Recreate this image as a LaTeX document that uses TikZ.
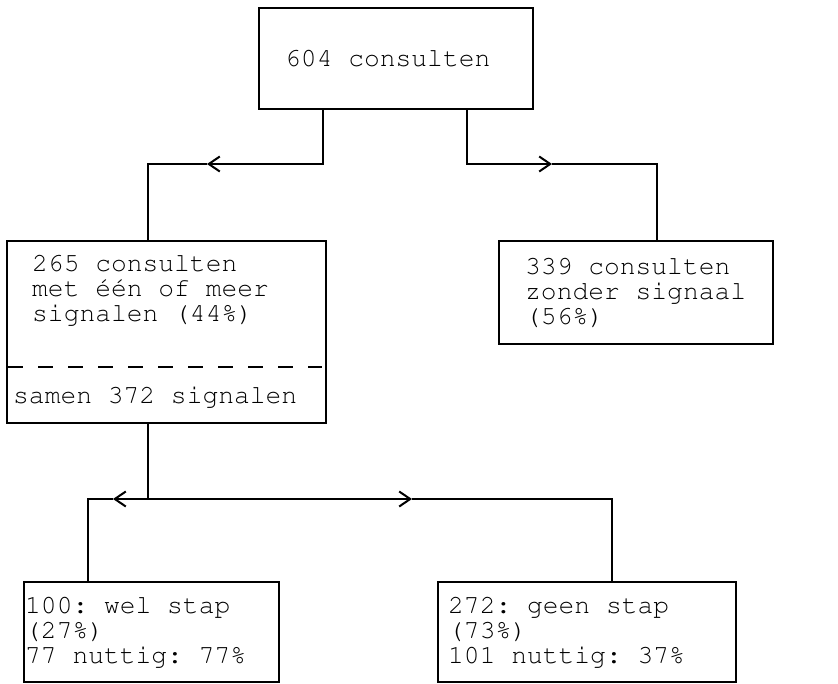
\documentclass[tikz,border=0pt]{standalone}
\usepackage[T1]{fontenc}
\usetikzlibrary{arrows.meta}

\newcommand\typefont{\fontencoding{T1}\fontfamily{pcr}\selectfont\frenchspacing}

\tikzset{
  box/.style={draw, line width=2pt, inner sep=0pt, anchor=north west},
  txt/.style={font=\typefont\fontsize{26.3}{25.3}\selectfont, align=left, inner sep=0pt, anchor=west},
  link/.style={line width=1.6pt},
  chevron/.style={link, -{Straight Barb[length=11pt, width=15pt, line width=2pt]}}
}

\begin{document}
\begin{tikzpicture}[x=1pt, y=-1pt]
    \useasboundingbox (0,0) rectangle (838,683);
    % boxes
    \node[box, minimum width=274pt, minimum height=101pt] (totaal) at (258,7) {};
    \node[box, minimum width=319pt, minimum height=182pt] (met) at (6,240) {};
    \node[box, minimum width=274pt, minimum height=103pt] (zonder) at (498,240) {};
    \node[box, minimum width=255pt, minimum height=100pt] (wel) at (23,581) {};
    \node[box, minimum width=298pt, minimum height=100pt] (geen) at (437,581) {};
    % texts
    \node[txt] (totaaltxt) at ([xshift=27pt]totaal.west) {604 consulten};
    \node[txt] (mettxt) at (32,290) {265 consulten\\met één of meer\\signalen (44\%)};
    \draw[link, line width=2.5pt, dash pattern=on 15pt off 15pt] (8,367) -- (322,367);
    \node[txt] (samen) at (13,397) {samen 372 signalen};
    \node[txt] (zondertxt) at ([xshift=27pt]zonder.west) {339 consulten\\zonder signaal\\(56\%)};
    \node[txt] (weltxt) at ([xshift=2pt]wel.west) {100: wel stap\\(27\%)\\77 nuttig: 77\%};
    \node[txt] (geentxt) at ([xshift=11pt]geen.west) {272: geen stap\\(73\%)\\101 nuttig: 37\%};
    % connectors
    \coordinate (pijlL) at (207,164);
    \coordinate (pijlR) at (552,164);
    \draw[chevron] ([xshift=65pt]totaal.south west) |- (pijlL);
    \draw[link] (pijlL) -| ([xshift=142pt]met.north west);
    \draw[chevron] ([xshift=209pt]totaal.south west) |- (pijlR);
    \draw[link] (pijlR) -| ([xshift=159pt]zonder.north west);
    \coordinate (pijlLL) at (113,499);
    \coordinate (pijlRR) at (412,499);
    \draw[chevron] ([xshift=142pt]met.south west) |- (pijlLL);
    \draw[link] (pijlLL) -| ([xshift=65pt]wel.north west);
    \draw[chevron] ([xshift=142pt]met.south west) |- (pijlRR);
    \draw[link] (pijlRR) -| ([xshift=175pt]geen.north west);
\end{tikzpicture}
\end{document}
